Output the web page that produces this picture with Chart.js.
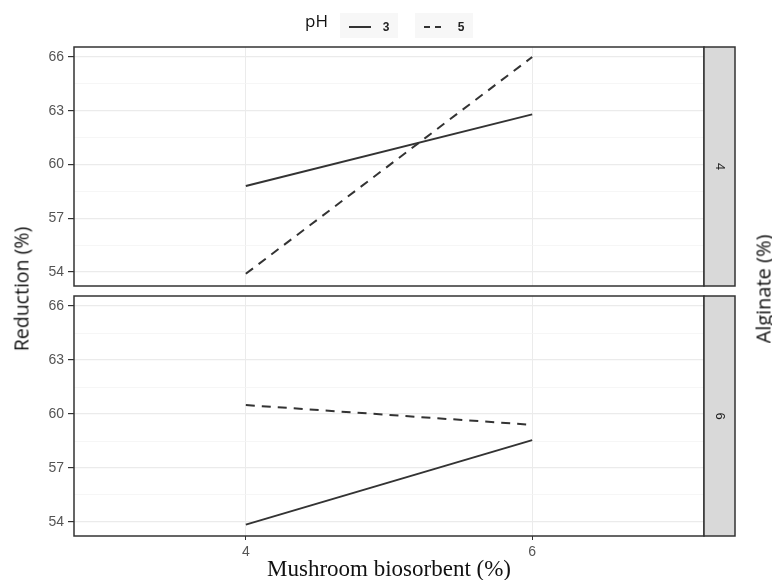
<!DOCTYPE html>
<html>
<head>
<meta charset="utf-8">
<script src="https://cdn.jsdelivr.net/npm/chart.js@4.4.1/dist/chart.umd.min.js"></script>
<style>
  body { margin:0; background:#fff; width:772px; height:580px; position:relative; overflow:hidden; font-family:"Open Sans", sans-serif; }
  canvas { position:absolute; left:0; }
  #c1 { top:0; }
  #c2 { top:290px; }
  .ttl { position:absolute; color:#111; white-space:nowrap; transform:translate(-50%,-50%) rotate(-90deg); }
</style>
</head>
<body>
<canvas id="c1" width="772" height="290"></canvas>
<canvas id="c2" width="772" height="295"></canvas>
<div class="ttl" style="left:21px;top:289px;font-size:19.5px">Reduction (%)</div>
<div class="ttl" style="left:763px;top:289px;font-size:20px">Alginate (%)</div>
<script>
// values
const biosorbent = [4, 6];
const phLevels = ['3', '5'];
const alginateLevels = ['4', '6'];
const alg4_ph3 = [58.8, 62.8];
const alg4_ph5 = [53.9, 66.0];
const alg6_ph3 = [53.85, 58.55];
const alg6_ph5 = [60.5, 59.4];
const yTicks = [54, 57, 60, 63, 66];
const xTicks = [4, 6];

const LINE = '#333333';
const DASH = [9, 7];

const points = (ys) => biosorbent.map((x, i) => ({ x, y: ys[i] }));

// panel border + right facet strip
const framePlugin = {
  id: 'frame',
  afterDraw(chart, args, opts) {
    const { ctx, chartArea: a } = chart;
    const h = a.bottom - a.top;
    ctx.save();
    ctx.strokeStyle = '#333';
    ctx.lineWidth = 1.5;
    ctx.strokeRect(a.left, a.top, a.right - a.left, h);
    ctx.fillStyle = '#d9d9d9';
    ctx.fillRect(a.right, a.top, 31, h);
    ctx.strokeRect(a.right, a.top, 31, h);
    ctx.translate(a.right + 15.5, a.top + h / 2);
    ctx.rotate(Math.PI / 2);
    ctx.fillStyle = '#1a1a1a';
    ctx.font = '13px "Liberation Sans"';
    ctx.textAlign = 'center';
    ctx.textBaseline = 'middle';
    ctx.fillText(opts.label, 0, 0);
    ctx.restore();
  }
};

// top legend "pH  — 3  - - 5"
const keyPlugin = {
  id: 'phKey',
  afterDraw(chart, args, opts) {
    if (!opts.show) return;
    const { ctx } = chart;
    ctx.save();
    ctx.fillStyle = '#111';
    ctx.font = '17px "Open Sans"';
    ctx.textBaseline = 'middle';
    ctx.fillText('pH', 305, 22);
    const keys = [{ x: 340, dash: [] }, { x: 415, dash: [6, 5] }];
    keys.forEach((k, i) => {
      ctx.fillStyle = '#f7f7f7';
      ctx.fillRect(k.x, 13, 58, 25);
      ctx.strokeStyle = LINE;
      ctx.lineWidth = 2;
      ctx.setLineDash(k.dash);
      ctx.beginPath();
      ctx.moveTo(k.x + 9, 27);
      ctx.lineTo(k.x + 31, 27);
      ctx.stroke();
      ctx.setLineDash([]);
      ctx.fillStyle = '#222';
      ctx.font = 'bold 12px "Liberation Sans"';
      ctx.textAlign = 'center';
      ctx.fillText(phLevels[i], k.x + 46, 28);
      ctx.textAlign = 'left';
    });
    ctx.restore();
  }
};

function makePanel(id, ph3, ph5, strip, isBottom) {
  return new Chart(document.getElementById(id), {
    type: 'line',
    data: {
      datasets: [
        { label: phLevels[0], data: points(ph3), borderColor: LINE, borderWidth: 2, pointRadius: 0 },
        { label: phLevels[1], data: points(ph5), borderColor: LINE, borderWidth: 2, pointRadius: 0, borderDash: DASH }
      ]
    },
    options: {
      responsive: false,
      animation: false,
      layout: { padding: { top: isBottom ? 6 : 47, right: 68, bottom: isBottom ? 0 : 4, left: 0 } },
      plugins: {
        legend: { display: false },
        tooltip: { enabled: false },
        frame: { label: strip },
        phKey: { show: !isBottom }
      },
      scales: {
        x: {
          type: 'linear', min: 2.8, max: 7.2,
          afterBuildTicks: s => { s.ticks = xTicks.map(v => ({ value: v })); },
          afterFit: s => { s.height = isBottom ? 49 : 0; s.paddingLeft = 0; s.paddingRight = 0; },
          ticks: { display: isBottom, color: '#555', font: { size: 14, family: 'Liberation Sans' }, padding: 4 },
          grid: { color: '#ebebeb', lineWidth: 1, tickLength: 4, tickColor: '#333', drawTicks: isBottom },
          border: { display: false },
          title: {
            display: isBottom, text: 'Mushroom biosorbent (%)', color: '#111',
            font: { family: 'Liberation Serif', size: 23 }, padding: { top: 0, bottom: 1 }
          }
        },
        y: {
          min: 53.22, max: 66.56,
          afterBuildTicks: s => {
            const t = [];
            yTicks.forEach((v, i) => {
              t.push({ value: v });
              if (i < yTicks.length - 1) t.push({ value: (v + yTicks[i + 1]) / 2 });
            });
            s.ticks = t;
          },
          afterFit: s => { s.width = 74; s.paddingTop = 0; s.paddingBottom = 0; },
          ticks: {
            color: '#555', font: { size: 14, family: 'Liberation Sans' }, padding: 4,
            callback: v => yTicks.includes(v) ? v : ''
          },
          grid: {
            color: c => yTicks.includes(c.tick && c.tick.value) ? '#ebebeb' : '#f4f4f4',
            lineWidth: c => yTicks.includes(c.tick && c.tick.value) ? 1.2 : 0.8,
            tickColor: c => yTicks.includes(c.tick && c.tick.value) ? '#333' : 'rgba(0,0,0,0)',
            tickLength: 6
          },
          border: { display: false }
        }
      }
    },
    plugins: [framePlugin, keyPlugin]
  });
}

makePanel('c1', alg4_ph3, alg4_ph5, alginateLevels[0], false);
makePanel('c2', alg6_ph3, alg6_ph5, alginateLevels[1], true);
</script>
</body>
</html>
